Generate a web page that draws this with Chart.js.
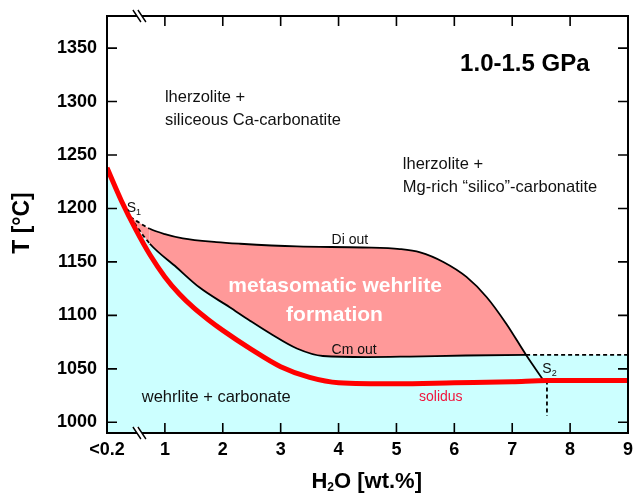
<!DOCTYPE html>
<html><head><meta charset="utf-8">
<script src="https://cdn.jsdelivr.net/npm/chart.js@4.4.1/dist/chart.umd.min.js"></script>
<style>html,body{margin:0;padding:0;background:#fff}#wrap{width:633px;height:498px;position:relative}</style>
</head><body><div id="wrap"><canvas id="c"></canvas></div>
<script>
// ---- data ----
const xTickValues = [0,1,2,3,4,5,6,7,8,9];
const xTickLabels = ['<0.2','1','2','3','4','5','6','7','8','9'];
const yTickValues = [1000,1050,1100,1150,1200,1250,1300,1350];

const solidusX = [0,0.25,0.5,0.75,1.0,1.25,1.5,1.75,2.0,2.5,3.0,3.5,4.0,5.0,6.0,7.0,7.6,9.0];
const solidusT = [1238,1207,1180,1156,1136,1120,1107,1096,1086,1068,1052,1042,1037,1036,1037,1038,1039,1039];

const diOutX = [0.40,0.74,1.0,1.31,1.89,2.3,3.28,4.42,5.06,5.41,5.81,6.21,6.56,6.9,7.24,7.53];
const diOutT = [1192,1181,1176,1172,1168.5,1167,1164.5,1163.5,1162,1159,1150,1136,1117,1092,1063,1040];

const cmOutX = [0.40,0.74,1.2,1.6,2.12,2.47,2.82,3.28,3.73,4.5,5.23,6.2,7.24,9.0];
const cmOutT = [1192,1167,1145,1126,1107.6,1095,1083,1069,1062,1061,1061.5,1062.5,1063,1063];

const s2LineX = [7.6,7.6];
const s2LineT = [1039,1006];

const S1x = 0.40, dashEndLeft = 0.74, cmDashStart = 7.24;
const breakX = 0.56;

// ---- text annotations (data coords) ----
const FONT = 'Liberation Sans, Arial, sans-serif';
const notes = [
  {runs:[{t:'1.0-1.5 GPa', f:'bold 24px '+FONT}], x:6.10, y:1329, align:'left', color:'#000'},
  {runs:[{t:'lherzolite +', f:'16.5px '+FONT}], x:1.0, y:1299.2, align:'left', color:'#111'},
  {runs:[{t:'siliceous Ca-carbonatite', f:'16.5px '+FONT}], x:1.0, y:1277.7, align:'left', color:'#111'},
  {runs:[{t:'lherzolite +', f:'16.5px '+FONT}], x:5.11, y:1237.2, align:'left', color:'#111'},
  {runs:[{t:'Mg-rich \u201csilico\u201d-carbonatite', f:'16.5px '+FONT}], x:5.11, y:1215.3, align:'left', color:'#111'},
  {runs:[{t:'Di out', f:'14px '+FONT}], x:3.88, y:1167.2, align:'left', color:'#111'},
  {runs:[{t:'Cm out', f:'14px '+FONT}], x:3.88, y:1064.3, align:'left', color:'#111'},
  {runs:[{t:'metasomatic wehrlite', f:'bold 21px '+FONT}], x:3.94, y:1122.3, align:'center', color:'#fff'},
  {runs:[{t:'formation', f:'bold 21px '+FONT}], x:3.93, y:1095.2, align:'center', color:'#fff'},
  {runs:[{t:'wehrlite + carbonate', f:'16.5px '+FONT}], x:0.60, y:1018.8, align:'left', color:'#111'},
  {runs:[{t:'solidus', f:'14px '+FONT}], x:5.39, y:1019.5, align:'left', color:'rgb(240,20,60)'},
  {runs:[{t:'S', f:'14px '+FONT},{t:'1', f:'9px '+FONT, dy:3}], x:0.34, y:1196.5, align:'left', color:'#111'},
  {runs:[{t:'S', f:'14px '+FONT},{t:'2', f:'9px '+FONT, dy:3}], x:7.52, y:1046.5, align:'left', color:'#111'}
];

function pts(xs, ys){ return xs.map((x,i)=>({x:x, y:ys[i]})); }
const cyanTop = pts(solidusX.filter(x=>x<S1x), solidusT.filter((t,i)=>solidusX[i]<S1x)).concat(pts(cmOutX, cmOutT));

function drawRuns(ctx, runs, px, py, align){
  let w = 0;
  runs.forEach(r=>{ ctx.font = r.f; r.w = ctx.measureText(r.t).width; w += r.w; });
  let x0 = align==='center' ? px - w/2 : (align==='right' ? px - w : px);
  runs.forEach(r=>{ ctx.font = r.f; ctx.fillText(r.t, x0, py + (r.dy||0)); x0 += r.w; });
}

const decor = {
  id:'decor',
  afterDatasetsDraw(chart){
    const ctx = chart.ctx, a = chart.chartArea, xs = chart.scales.x, ys = chart.scales.y;
    ctx.save();
    ctx.textAlign = 'left'; ctx.textBaseline = 'alphabetic';
    notes.forEach(n=>{
      ctx.fillStyle = n.color;
      drawRuns(ctx, n.runs, xs.getPixelForValue(n.x), ys.getPixelForValue(n.y), n.align);
    });
    // inward ticks
    ctx.strokeStyle = '#000'; ctx.lineWidth = 1.6;
    ctx.beginPath();
    xTickValues.forEach(v=>{
      if (v <= xs.min || v >= xs.max) return;
      const p = xs.getPixelForValue(v);
      ctx.moveTo(p, a.bottom); ctx.lineTo(p, a.bottom - 10);
      ctx.moveTo(p, a.top); ctx.lineTo(p, a.top + 10);
    });
    yTickValues.forEach(v=>{
      const p = ys.getPixelForValue(v);
      ctx.moveTo(a.left, p); ctx.lineTo(a.left + 10, p);
      ctx.moveTo(a.right, p); ctx.lineTo(a.right - 10, p);
    });
    ctx.stroke();
    // frame
    ctx.lineWidth = 2;
    ctx.strokeRect(a.left, a.top, a.right - a.left, a.bottom - a.top);
    // axis breaks
    const bx = xs.getPixelForValue(breakX);
    [a.top, a.bottom].forEach(by=>{
      ctx.fillStyle = '#fff';
      ctx.beginPath();
      ctx.moveTo(bx-5, by-6); ctx.lineTo(bx, by-6); ctx.lineTo(bx+5, by+6); ctx.lineTo(bx, by+6);
      ctx.closePath(); ctx.fill();
      ctx.lineWidth = 1.4; ctx.strokeStyle = '#000';
      ctx.beginPath();
      ctx.moveTo(bx-6.5, by-6); ctx.lineTo(bx+1.5, by+6);
      ctx.moveTo(bx-1.5, by-6); ctx.lineTo(bx+6.5, by+6);
      ctx.stroke();
    });
    // axis titles
    ctx.fillStyle = '#000';
    drawRuns(ctx, [{t:'H', f:'bold 22px '+FONT},{t:'2', f:'bold 12px '+FONT, dy:3},{t:'O [wt.%]', f:'bold 22px '+FONT}], 366.7, 488, 'center');
    ctx.save();
    ctx.translate(29, 223); ctx.rotate(-Math.PI/2);
    drawRuns(ctx, [{t:'T [\u00b0C]', f:'bold 23px '+FONT}], 0, 0, 'center');
    ctx.restore();
    ctx.restore();
  }
};

const tickFont = {family: FONT, size: 18, weight: 'bold'};
new Chart(document.getElementById('c'), {
  type: 'line',
  data: { datasets: [
    { label:'cyan', data: cyanTop, order: 30, fill: 'start', backgroundColor: 'rgb(204,255,255)',
      borderColor: 'rgba(0,0,0,0)', borderWidth: 0, pointRadius: 0, cubicInterpolationMode: 'monotone' },
    { label:'Di out', data: pts(diOutX, diOutT), order: 20,
      fill: {target: 2, above: 'rgb(255,153,153)', below: 'rgba(0,0,0,0)'},
      borderColor: '#000', borderWidth: 1.8, pointRadius: 0, cubicInterpolationMode: 'monotone',
      segment: { borderDash: c => c.p1.parsed.x <= dashEndLeft ? [4,3] : undefined } },
    { label:'Cm out', data: pts(cmOutX, cmOutT), order: 10, fill: false,
      borderColor: '#000', borderWidth: 1.8, pointRadius: 0, cubicInterpolationMode: 'monotone',
      segment: { borderDash: c => (c.p1.parsed.x <= dashEndLeft || c.p0.parsed.x >= cmDashStart) ? [4,3] : undefined } },
    { label:'S2 line', data: pts(s2LineX, s2LineT), order: 5, fill: false, tension: 0,
      borderColor: '#000', borderWidth: 1.8, borderDash: [4,3], pointRadius: 0 },
    { label:'solidus', data: pts(solidusX, solidusT), order: 0, fill: false,
      borderColor: '#ff0000', borderWidth: 5, pointRadius: 0, cubicInterpolationMode: 'monotone' }
  ]},
  options: {
    responsive: true, maintainAspectRatio: false, animation: false,
    layout: { padding: {top: 16, right: 5, left: 0, bottom: 0} },
    plugins: { legend: {display: false}, tooltip: {enabled: false} },
    scales: {
      x: { type: 'linear', min: 0, max: 9,
        afterBuildTicks: s => { s.ticks = xTickValues.map(v=>({value: v})); },
        afterFit: s => { s.height = 65; s.paddingLeft = 0; s.paddingRight = 0; },
        grid: {display: false, drawTicks: false}, border: {display: false},
        ticks: { font: tickFont, color: '#000', padding: 6, autoSkip: false, maxRotation: 0,
          callback: (v, i) => xTickLabels[i] } },
      y: { type: 'linear', min: 990, max: 1380,
        afterBuildTicks: s => { s.ticks = yTickValues.map(v=>({value: v})); },
        afterFit: s => { s.width = 107; s.paddingTop = 0; s.paddingBottom = 0; },
        grid: {display: false, drawTicks: false}, border: {display: false},
        ticks: { font: tickFont, color: '#000', padding: 10, callback: v => String(v) } }
    }
  },
  plugins: [decor]
});
</script></body></html>
